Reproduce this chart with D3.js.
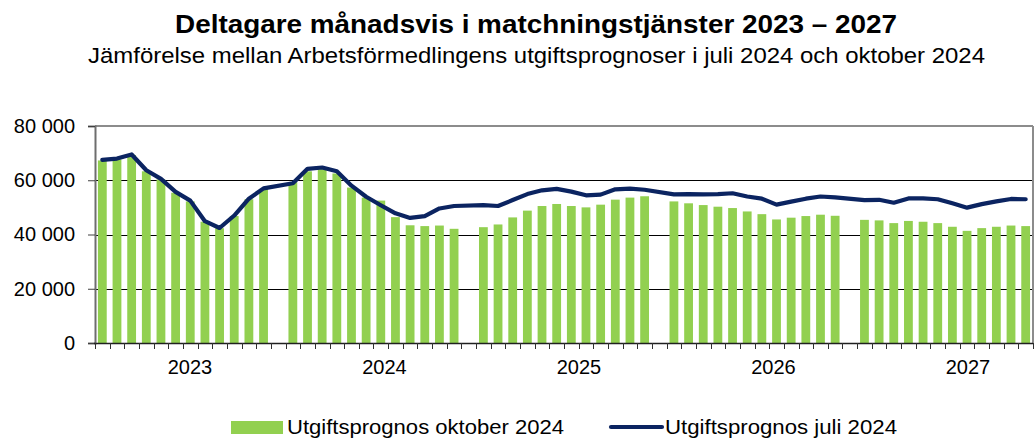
<!DOCTYPE html>
<html>
<head>
<meta charset="utf-8">
<script src="https://cdn.jsdelivr.net/npm/d3@7"></script>
<style>
  html, body { margin: 0; padding: 0; background: #fff; }
  svg { display: block; }
  text { font-family: "Liberation Sans", Arial, sans-serif; fill: #000; }
</style>
</head>
<body>
<svg id="chart" width="1034" height="438"></svg>
<script>
// ---- Data ----
const years = ["2023", "2024", "2025", "2026", "2027"];
const months = ["jan", "feb", "mar", "apr", "maj", "jun", "jul", "aug", "sep", "okt", "nov", "dec"];

// Utgiftsprognos oktober 2024 (bars), monthly Jan 2023 – Dec 2027
const prognosOktober2024 = [
  67300, 67700, 69300, 63300, 60300, 55400, 52200, 44700, 42300, 46800, 53000, 56800,
  59300, 63300, 64100, 62500, 57300, 53600, 52500, 46400, 43400, 43100, 43300, 42100,
  42700, 43700, 46300, 48800, 50500, 51250, 50500, 50000, 51000, 52850, 53600, 54100,
  52200, 51500, 50850, 50250, 49750, 48500, 47500, 45550, 46200, 46800, 47300, 46900,
  45400, 45200, 44200, 45000, 44700, 44200, 42850, 41350, 42350, 42850, 43300, 43100
];

// Utgiftsprognos juli 2024 (line), monthly Jan 2023 – Dec 2027
const prognosJuli2024 = [
  67500, 68000, 69500, 63700, 60500, 55700, 52500, 44900, 42400, 47000, 53200, 57000,
  58900, 64200, 64700, 63300, 58000, 53900, 50800, 47800, 46100, 46800, 49600, 50500,
  50800, 50500, 52700, 54900, 56300, 56800, 55800, 54450, 54700, 56650, 56900, 56500,
  54800, 54900, 54800, 54900, 55200, 54000, 53200, 51000, 52100, 53200, 54000, 53700,
  52700, 52800, 51700, 53300, 53300, 53000, 51500, 49900, 51200, 52200, 53100, 53000
];

const yTicks = [0, 20000, 40000, 60000, 80000];

const titleText = "Deltagare månadsvis i matchningstjänster 2023 – 2027";
const subtitleText = "Jämförelse mellan Arbetsförmedlingens utgiftsprognoser i juli 2024 och oktober 2024";
const seriesNames = ["Utgiftsprognos oktober 2024", "Utgiftsprognos juli 2024"];

// ---- Layout ----
const svg = d3.select("#chart");
const plot = { left: 95, right: 1033, top: 126, bottom: 343 };
const barColor = "#92D050";
const lineColor = "#0B2461";

// Slots: 12 months per year, plus one empty spacer slot between years
const slotKeys = [];
const monthRows = [];
years.forEach((yr, yi) => {
  months.forEach((m, mi) => {
    const key = yr + "-" + m;
    slotKeys.push(key);
    monthRows.push({ key, year: yr, oct: prognosOktober2024[yi * 12 + mi], jul: prognosJuli2024[yi * 12 + mi] });
  });
  if (yi < years.length - 1) slotKeys.push("gap-" + yr);
});

const x = d3.scaleBand()
  .domain(slotKeys)
  .range([plot.left, plot.right])
  .paddingInner(0.4)
  .paddingOuter(0.2);

const y = d3.scaleLinear().domain([0, 80000]).range([plot.bottom, plot.top]);

// year label positions (evenly spaced, as in the original)
const xYear = d3.scalePoint().domain(years).range([190, 968]);

// ---- Title ----
svg.append("text")
  .attr("x", 536).attr("y", 33)
  .attr("text-anchor", "middle")
  .attr("font-size", 26).attr("font-weight", "bold")
  .attr("textLength", 722).attr("lengthAdjust", "spacingAndGlyphs")
  .text(titleText);

svg.append("text")
  .attr("x", 536.5).attr("y", 63)
  .attr("text-anchor", "middle")
  .attr("font-size", 22)
  .attr("textLength", 897).attr("lengthAdjust", "spacingAndGlyphs")
  .text(subtitleText);

// ---- Gridlines ----
svg.append("g")
  .selectAll("line")
  .data(yTicks.filter(t => t > 0 && t < 80000))
  .join("line")
  .attr("x1", plot.left).attr("x2", plot.right)
  .attr("y1", d => Math.round(y(d)) + 0.5).attr("y2", d => Math.round(y(d)) + 0.5)
  .attr("stroke", "#000").attr("stroke-width", 1);

// top & right border
svg.append("line")
  .attr("x1", plot.left).attr("x2", plot.right)
  .attr("y1", y(80000)).attr("y2", y(80000))
  .attr("stroke", "#8c8c8c").attr("stroke-width", 2);
svg.append("line")
  .attr("x1", plot.right).attr("x2", plot.right)
  .attr("y1", y(80000)).attr("y2", plot.bottom)
  .attr("stroke", "#8c8c8c").attr("stroke-width", 2);

// ---- Bars ----
svg.append("g")
  .selectAll("rect")
  .data(monthRows)
  .join("rect")
  .attr("x", d => x(d.key))
  .attr("width", x.bandwidth())
  .attr("y", d => y(d.oct))
  .attr("height", d => y(0) - y(d.oct))
  .attr("fill", barColor);

// ---- Line ----
const line = d3.line()
  .x(d => x(d.key) + x.bandwidth() / 2)
  .y(d => y(d.jul))
  .curve(d3.curveLinear);

svg.append("path")
  .datum(monthRows)
  .attr("d", line)
  .attr("fill", "none")
  .attr("stroke", lineColor)
  .attr("stroke-width", 4.2)
  .attr("stroke-linejoin", "round")
  .attr("stroke-linecap", "round");

// ---- Y axis ----
const yAxis = d3.axisLeft(y)
  .tickValues(yTicks)
  .tickSize(7)
  .tickPadding(13)
  .tickFormat(d => d3.format(",")(d).replace(/,/g, " "));

const gy = svg.append("g")
  .attr("transform", `translate(${plot.left},0)`)
  .call(yAxis);
gy.select(".domain").attr("stroke", "#6e6e6e").attr("stroke-width", 2);
gy.selectAll(".tick line").attr("stroke", "#404040");
gy.selectAll(".tick text")
  .attr("font-size", 20)
  .attr("font-family", "'Liberation Sans', Arial, sans-serif")
  .attr("fill", "#000");

// ---- X axis ----
const step = x.step();
const boundaryKeys = slotKeys.concat(["__end"]);
const boundaryX = (k, i) => i < slotKeys.length
  ? x(k) - step * x.paddingInner() / 2
  : x(slotKeys[slotKeys.length - 1]) + x.bandwidth() + step * x.paddingInner() / 2;

svg.append("line")
  .attr("x1", plot.left - 1).attr("x2", plot.right)
  .attr("y1", plot.bottom + 0.5).attr("y2", plot.bottom + 0.5)
  .attr("stroke", "#202020").attr("stroke-width", 1.5);

svg.append("g")
  .selectAll("line")
  .data(boundaryKeys)
  .join("line")
  .attr("x1", (k, i) => Math.round(boundaryX(k, i)) + 0.5)
  .attr("x2", (k, i) => Math.round(boundaryX(k, i)) + 0.5)
  .attr("y1", plot.bottom)
  .attr("y2", plot.bottom + 6)
  .attr("stroke", "#303030").attr("stroke-width", 1);

svg.append("g")
  .selectAll("text")
  .data(years)
  .join("text")
  .attr("x", d => xYear(d))
  .attr("y", 374)
  .attr("text-anchor", "middle")
  .attr("font-size", 20)
  .text(d => d);

// ---- Legend ----
const lg = svg.append("g");
lg.append("rect")
  .attr("x", 231).attr("y", 421).attr("width", 52).attr("height", 13)
  .attr("fill", barColor);
lg.append("text")
  .attr("x", 287).attr("y", 434)
  .attr("font-size", 20)
  .attr("textLength", 277).attr("lengthAdjust", "spacingAndGlyphs")
  .text(seriesNames[0]);
lg.append("line")
  .attr("x1", 611).attr("x2", 662)
  .attr("y1", 427).attr("y2", 427)
  .attr("stroke", lineColor).attr("stroke-width", 4.2)
  .attr("stroke-linecap", "round");
lg.append("text")
  .attr("x", 665).attr("y", 434)
  .attr("font-size", 20)
  .attr("textLength", 232).attr("lengthAdjust", "spacingAndGlyphs")
  .text(seriesNames[1]);
</script>
</body>
</html>
